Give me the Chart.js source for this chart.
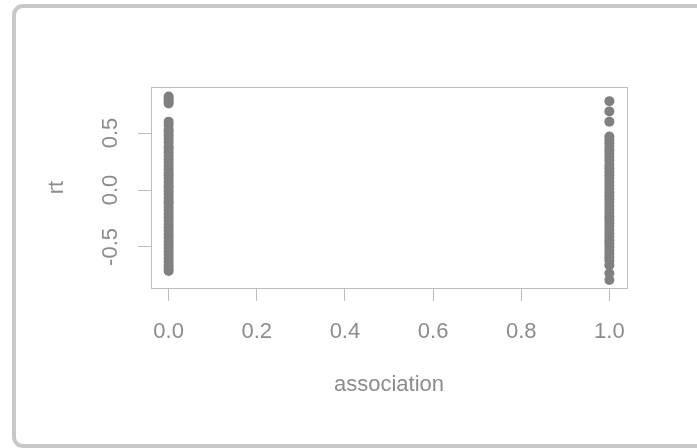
<!DOCTYPE html>
<html>
<head>
<meta charset="utf-8">
<script src="https://cdn.jsdelivr.net/npm/chart.js@4/dist/chart.umd.min.js"></script>
<style>
  html, body { margin: 0; padding: 0; width: 697px; height: 448px; overflow: hidden; background: #fff; }
  #frame { position: absolute; left: 12px; top: 4px; width: 720px; height: 444px; box-sizing: border-box;
           border: 4px solid #c8c8c8; border-radius: 11px; }
  #c { position: absolute; left: 0; top: 0; }
</style>
</head>
<body>
<div id="frame"></div>
<canvas id="c" width="697" height="448"></canvas>
<script>
// ---- data ----
const xCategories = [0, 1];
const rtAtZero = [0.82, 0.80, 0.78, 0.76,
  0.60, 0.57, 0.53, 0.51, 0.48, 0.45, 0.42, 0.38, 0.36, 0.33, 0.30, 0.27, 0.24, 0.21, 0.18,
  0.15, 0.13, 0.10, 0.07, 0.04, 0.02, -0.01, -0.04, -0.07, -0.10, -0.12, -0.15, -0.18, -0.21,
  -0.24, -0.27, -0.30, -0.33, -0.36, -0.39, -0.42, -0.45, -0.48, -0.51, -0.54, -0.57, -0.60,
  -0.63, -0.66, -0.69, -0.71];
const rtAtOne = [0.78, 0.69, 0.60,
  0.47, 0.44, 0.41, 0.38, 0.35, 0.32, 0.29, 0.26, 0.22, 0.19, 0.16, 0.13, 0.10, 0.07, 0.04,
  0.01, -0.02, -0.05, -0.08, -0.11, -0.14, -0.17, -0.20, -0.23, -0.26, -0.29, -0.32, -0.35,
  -0.38, -0.41, -0.44, -0.47, -0.50, -0.53, -0.56, -0.59, -0.62, -0.66, -0.73, -0.79];
const xTickValues = [0, 0.2, 0.4, 0.6, 0.8, 1.0];
const yTickValues = [-0.5, 0, 0.5];
const xLabel = 'association';
const yLabel = 'rt';

const points = [
  ...rtAtZero.map(v => ({ x: xCategories[0], y: v })),
  ...rtAtOne.map(v => ({ x: xCategories[1], y: v }))
];

const textColor = '#8c8c8c';
const lineColor = '#bdbdbd';
const font = { family: "'Liberation Sans', Arial, Helvetica, sans-serif", size: 22 };

const boxPlugin = {
  id: 'plotBox',
  beforeDatasetsDraw(chart) {
    const a = chart.chartArea;
    const ctx = chart.ctx;
    ctx.save();
    ctx.strokeStyle = lineColor;
    ctx.lineWidth = 1;
    ctx.strokeRect(Math.round(a.left) + 0.5, Math.round(a.top) + 0.5,
                   Math.round(a.right - a.left), Math.round(a.bottom - a.top));
    ctx.restore();
  }
};

new Chart(document.getElementById('c'), {
  type: 'scatter',
  data: {
    datasets: [{
      data: points,
      backgroundColor: '#808080',
      borderColor: '#808080',
      borderWidth: 0,
      pointRadius: 5,
      pointHoverRadius: 5
    }]
  },
  options: {
    responsive: false,
    animation: false,
    devicePixelRatio: 1,
    layout: { padding: { left: 0, top: 87, right: 70, bottom: 0 } },
    plugins: { legend: { display: false }, tooltip: { enabled: false } },
    scales: {
      x: {
        type: 'linear',
        min: -0.04,
        max: 1.04,
        afterBuildTicks: s => { s.ticks = xTickValues.map(v => ({ value: v })); },
        afterFit: s => { s.height = 160; },
        ticks: {
          callback: v => Number(v).toFixed(1),
          font: font, color: textColor, padding: 18,
          maxRotation: 0, autoSkip: false
        },
        grid: { display: true, drawOnChartArea: false, drawTicks: true, tickLength: 13, color: lineColor, lineWidth: 1 },
        border: { display: true, color: lineColor, width: 1 },
        title: { display: true, text: xLabel, font: font, color: textColor, padding: { top: 0, bottom: 50 } }
      },
      y: {
        type: 'linear',
        min: -0.86,
        max: 0.904,
        afterBuildTicks: s => { s.ticks = yTickValues.map(v => ({ value: v })); },
        afterFit: s => { s.width = 151; },
        ticks: {
          callback: v => Number(v).toFixed(1),
          font: font, color: textColor, padding: 8,
          minRotation: 90, maxRotation: 90, crossAlign: 'center', autoSkip: false
        },
        grid: { display: true, drawOnChartArea: false, drawTicks: true, tickLength: 13, color: lineColor, lineWidth: 1 },
        border: { display: true, color: lineColor, width: 1 },
        title: { display: true, text: yLabel, font: font, color: textColor, padding: { top: 44, bottom: 0 } }
      }
    }
  },
  plugins: [boxPlugin]
});
</script>
</body>
</html>
